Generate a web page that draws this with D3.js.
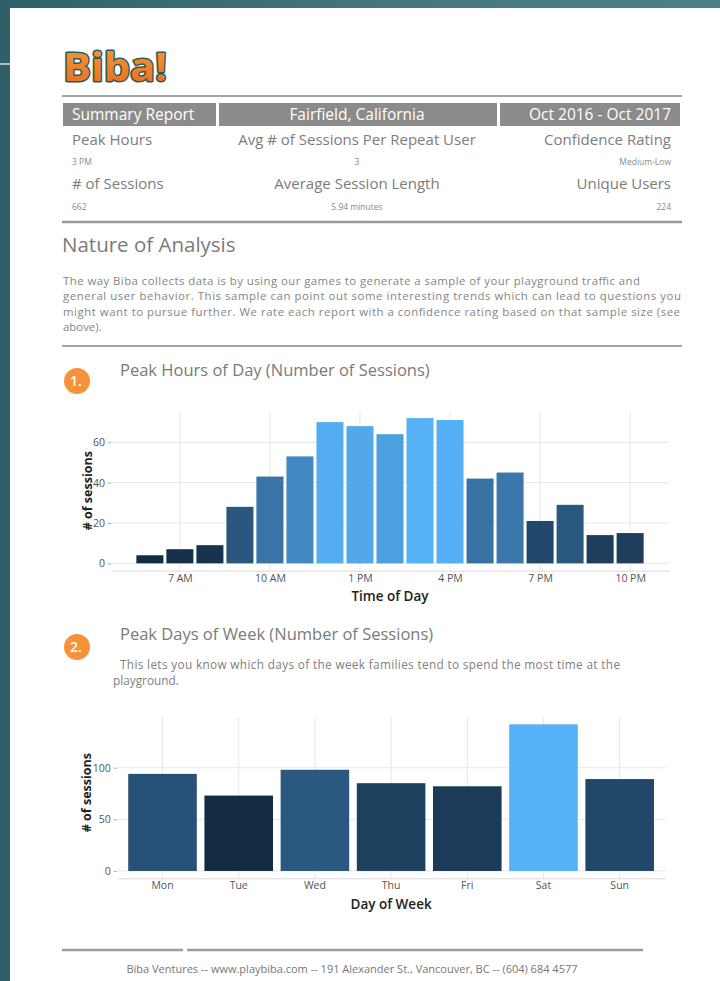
<!DOCTYPE html>
<html>
<head>
<meta charset="utf-8">
<script src="https://cdn.jsdelivr.net/npm/d3@7"></script>
<style>
  html, body { margin: 0; padding: 0; background: #3f6e76; }
  svg { display: block; }
  text { font-family: "Open Sans", "Noto Sans", sans-serif; }
</style>
</head>
<body>
<svg id="page" width="720" height="981"></svg>
<script>
// ---------------- DATA ----------------
const headerCells = ["Summary Report", "Fairfield, California", "Oct 2016 - Oct 2017"];
const summaryLabelsRow1 = ["Peak Hours", "Avg # of Sessions Per Repeat User", "Confidence Rating"];
const summaryValuesRow1 = ["3 PM", "3", "Medium-Low"];
const summaryLabelsRow2 = ["# of Sessions", "Average Session Length", "Unique Users"];
const summaryValuesRow2 = ["662", "5.94 minutes", "224"];

const analysisLines = [
  "The way Biba collects data is by using our games to generate a sample of your playground traffic and",
  "general user behavior. This sample can point out some interesting trends which can lead to questions you",
  "might want to pursue further. We rate each report with a confidence rating based on that sample size (see",
  "above)."
];

// Chart 1: hour of day (24h clock) and number of sessions
const hours = [6, 7, 8, 9, 10, 11, 12, 13, 14, 15, 16, 17, 18, 19, 20, 21, 22];
const hourSessions = [4, 7, 9, 28, 43, 53, 70, 68, 64, 72, 71, 42, 45, 21, 29, 14, 15];
const hourTicks = [7, 10, 13, 16, 19, 22];
const hourTickLabels = ["7 AM", "10 AM", "1 PM", "4 PM", "7 PM", "10 PM"];
const hourYTicks = [0, 20, 40, 60];

// Chart 2: day of week
const days = ["Mon", "Tue", "Wed", "Thu", "Fri", "Sat", "Sun"];
const daySessions = [94, 73, 98, 85, 82, 142, 89];
const dayYTicks = [0, 50, 100];

const subtitleLines = [
  "This lets you know which days of the week families tend to spend the most time at the",
  "playground."
];
const footerText = "Biba Ventures -- www.playbiba.com -- 191 Alexander St., Vancouver, BC -- (604) 684 4577";

// ---------------- DRAW ----------------
const svg = d3.select("#page");
const defs = svg.append("defs");
const bg = defs.append("linearGradient").attr("id", "bgGrad").attr("x1", 0).attr("x2", 1).attr("y1", 0).attr("y2", 0);
bg.append("stop").attr("offset", "0%").attr("stop-color", "#2f6069");
bg.append("stop").attr("offset", "50%").attr("stop-color", "#45747c");
bg.append("stop").attr("offset", "100%").attr("stop-color", "#4f8088");
const lg = defs.append("linearGradient").attr("id", "logoGrad").attr("x1", 0).attr("x2", 0).attr("y1", 0).attr("y2", 1);
lg.append("stop").attr("offset", "0%").attr("stop-color", "#f7a13a");
lg.append("stop").attr("offset", "100%").attr("stop-color", "#e9661c");

svg.append("rect").attr("width", 720).attr("height", 981).attr("fill", "url(#bgGrad)");
svg.append("line").attr("x1", 0).attr("x2", 10).attr("y1", 64).attr("y2", 64).attr("stroke", "#d8dfe0").attr("stroke-width", 1.5);
svg.append("rect").attr("x", 10).attr("y", 8).attr("width", 710).attr("height", 973).attr("fill", "#ffffff");

// Logo
svg.append("text").attr("x", 63).attr("y", 81)
  .attr("font-family", "'DejaVu Sans', sans-serif").attr("font-weight", 700).attr("font-size", 40)
  .attr("textLength", 104).attr("lengthAdjust", "spacingAndGlyphs")
  .attr("fill", "url(#logoGrad)").attr("stroke", "#2c5a5c").attr("stroke-width", 3)
  .attr("paint-order", "stroke").attr("stroke-linejoin", "round")
  .text("Biba!");

// Rules
function rule(x1, x2, y, w, c) {
  svg.append("line").attr("x1", x1).attr("x2", x2).attr("y1", y).attr("y2", y)
    .attr("stroke", c || "#9a9a9a").attr("stroke-width", w || 2);
}
rule(62, 682, 96, 2, "#a3a3a3");

// Header boxes
const boxX = [[63, 216], [219, 497], [500, 680]];
svg.selectAll("rect.hbox").data(boxX).join("rect").attr("class", "hbox")
  .attr("x", d => d[0]).attr("y", 103).attr("width", d => d[1] - d[0]).attr("height", 23)
  .attr("fill", "#8b8b8b");
const colX = [72, 357, 671];
const colAnchor = ["start", "middle", "end"];
svg.selectAll("text.hdr").data(headerCells).join("text").attr("class", "hdr")
  .attr("x", (d, i) => colX[i]).attr("y", 120).attr("text-anchor", (d, i) => colAnchor[i])
  .attr("font-size", 15.5).attr("fill", "#ffffff").text(d => d);

function row(arr, y, size, color) {
  svg.append("g").selectAll("text").data(arr).join("text")
    .attr("x", (d, i) => colX[i]).attr("y", y).attr("text-anchor", (d, i) => colAnchor[i])
    .attr("font-size", size).attr("fill", color).text(d => d);
}
row(summaryLabelsRow1, 145, 15, "#7c7c7c");
row(summaryValuesRow1, 165, 8.5, "#8a8a8a");
row(summaryLabelsRow2, 189, 15, "#7c7c7c");
row(summaryValuesRow2, 210, 8.5, "#8a8a8a");
rule(62, 682, 222, 2.5, "#9a9a9a");

svg.append("text").attr("x", 62).attr("y", 252).attr("font-size", 20.5).attr("fill", "#7a7a7a").text("Nature of Analysis");
const lineWidths = [577, 618, 617, null];
svg.append("g").selectAll("text").data(analysisLines).join("text")
  .attr("x", 63).attr("y", (d, i) => 285 + i * 15.3).attr("font-size", 11.4).attr("fill", "#858585")
  .each(function (d, i) { if (lineWidths[i]) d3.select(this).attr("textLength", lineWidths[i]).attr("lengthAdjust", "spacing"); })
  .text(d => d);
rule(62, 682, 346, 2, "#a3a3a3");

// Section badges & titles
function badge(cx, cy, label) {
  svg.append("circle").attr("cx", cx).attr("cy", cy).attr("r", 13).attr("fill", "#f7923a");
  svg.append("text").attr("x", cx - 1).attr("y", cy + 5).attr("text-anchor", "middle")
    .attr("font-size", 14).attr("font-weight", 600).attr("fill", "#ffffff").text(label);
}
badge(77, 381, "1.");
svg.append("text").attr("x", 120).attr("y", 376).attr("font-size", 16.5).attr("fill", "#7a7a7a")
  .text("Peak Hours of Day (Number of Sessions)");

badge(77, 647, "2.");
svg.append("text").attr("x", 120).attr("y", 640).attr("font-size", 16.5).attr("fill", "#7a7a7a")
  .text("Peak Days of Week (Number of Sessions)");
svg.append("g").selectAll("text").data(subtitleLines).join("text")
  .attr("x", (d, i) => i === 0 ? 120 : 113).attr("y", (d, i) => 669 + i * 16)
  .attr("font-size", 11.8).attr("fill", "#808080")
  .each(function (d, i) { if (i === 0) d3.select(this).attr("textLength", 500).attr("lengthAdjust", "spacing"); })
  .text(d => d);

const gridColor = "#e6e6e6";
const tickColor = "#555555";

// ---------- Chart 1 ----------
{
  const left = 111, right = 669, top = 410.8, bottom = 570.6;
  const x = d3.scaleLinear().domain([4.705, 23.295]).range([left, right]);
  const y = d3.scaleLinear().domain([-3.6, 75.6]).range([bottom, top]);
  const color = d3.scaleLinear().domain(d3.extent(hourSessions)).range(["#132B43", "#56B1F7"]).interpolate(d3.interpolateLab);
  const g = svg.append("g");
  g.selectAll("line.hg").data(hourYTicks).join("line").attr("x1", left).attr("x2", right)
    .attr("y1", d => y(d)).attr("y2", d => y(d)).attr("stroke", gridColor).attr("stroke-width", 1);
  g.selectAll("line.vg").data(hourTicks).join("line").attr("x1", d => x(d)).attr("x2", d => x(d))
    .attr("y1", top).attr("y2", bottom).attr("stroke", gridColor).attr("stroke-width", 1);
  const bw = x(0.9) - x(0);
  g.selectAll("rect.bar").data(hours).join("rect")
    .attr("x", (d) => x(d) - bw / 2).attr("width", bw)
    .attr("y", (d, i) => y(hourSessions[i])).attr("height", (d, i) => y(0) - y(hourSessions[i]))
    .attr("fill", (d, i) => color(hourSessions[i]));
  // axes
  const xAxis = d3.axisBottom(x).tickValues(hourTicks).tickFormat((d, i) => hourTickLabels[i]).tickSize(0).tickPadding(4);
  const ax = g.append("g").attr("transform", `translate(0,${bottom})`).call(xAxis);
  ax.select(".domain").attr("stroke", "#d9d9d9");
  ax.selectAll("text").attr("font-size", 10.5).attr("fill", tickColor).attr("font-family", "'Open Sans', sans-serif");
  const yAxis = d3.axisLeft(y).tickValues(hourYTicks).tickSize(3).tickPadding(3);
  const ay = g.append("g").attr("transform", `translate(${left},0)`).call(yAxis);
  ay.select(".domain").remove();
  ay.selectAll("line").attr("stroke", "#aaaaaa");
  ay.selectAll("text").attr("font-size", 10.5).attr("fill", tickColor).attr("font-family", "'Open Sans', sans-serif");
  g.append("text").attr("x", (left + right) / 2).attr("y", 601).attr("text-anchor", "middle")
    .attr("font-size", 13.5).attr("font-weight", 600).attr("fill", "#222").text("Time of Day");
  g.append("text").attr("transform", `translate(92,${(top + bottom) / 2}) rotate(-90)`).attr("text-anchor", "middle")
    .attr("font-size", 12.5).attr("font-weight", 700).attr("fill", "#222").text("# of sessions");
}

// ---------- Chart 2 ----------
{
  const left = 116.8, right = 665.4, top = 717, bottom = 878.3;
  const x = d3.scaleBand().domain(days).range([left, right]).paddingInner(0.1).paddingOuter(0.15);
  const y = d3.scaleLinear().domain([-7.1, 149.1]).range([bottom, top]);
  const color = d3.scaleLinear().domain(d3.extent(daySessions)).range(["#132B43", "#56B1F7"]).interpolate(d3.interpolateLab);
  const g = svg.append("g");
  g.selectAll("line.hg").data(dayYTicks).join("line").attr("x1", left).attr("x2", right)
    .attr("y1", d => y(d)).attr("y2", d => y(d)).attr("stroke", gridColor).attr("stroke-width", 1);
  g.selectAll("line.vg").data(days).join("line").attr("x1", d => x(d) + x.bandwidth() / 2).attr("x2", d => x(d) + x.bandwidth() / 2)
    .attr("y1", top).attr("y2", bottom).attr("stroke", gridColor).attr("stroke-width", 1);
  g.selectAll("rect.bar").data(days).join("rect")
    .attr("x", d => x(d)).attr("width", x.bandwidth())
    .attr("y", (d, i) => y(daySessions[i])).attr("height", (d, i) => y(0) - y(daySessions[i]))
    .attr("fill", (d, i) => color(daySessions[i]));
  const xAxis = d3.axisBottom(x).tickSize(0).tickPadding(3);
  const ax = g.append("g").attr("transform", `translate(0,${bottom})`).call(xAxis);
  ax.select(".domain").attr("stroke", "#d9d9d9");
  ax.selectAll("text").attr("font-size", 10.5).attr("fill", tickColor).attr("font-family", "'Open Sans', sans-serif");
  const yAxis = d3.axisLeft(y).tickValues(dayYTicks).tickSize(3).tickPadding(3);
  const ay = g.append("g").attr("transform", `translate(${left},0)`).call(yAxis);
  ay.select(".domain").remove();
  ay.selectAll("line").attr("stroke", "#aaaaaa");
  ay.selectAll("text").attr("font-size", 10.5).attr("fill", tickColor).attr("font-family", "'Open Sans', sans-serif");
  g.append("text").attr("x", (left + right) / 2).attr("y", 909).attr("text-anchor", "middle")
    .attr("font-size", 13.5).attr("font-weight", 600).attr("fill", "#222").text("Day of Week");
  g.append("text").attr("transform", `translate(91,${(top + bottom) / 2 - 5}) rotate(-90)`).attr("text-anchor", "middle")
    .attr("font-size", 12.5).attr("font-weight", 700).attr("fill", "#222").text("# of sessions");
}

// Footer
rule(62, 183, 950, 2.5, "#9d9d9d");
rule(187, 643, 950, 2.5, "#9d9d9d");
svg.append("text").attr("x", 352).attr("y", 973).attr("text-anchor", "middle")
  .attr("font-size", 11).attr("fill", "#777").text(footerText);
</script>
</body>
</html>
